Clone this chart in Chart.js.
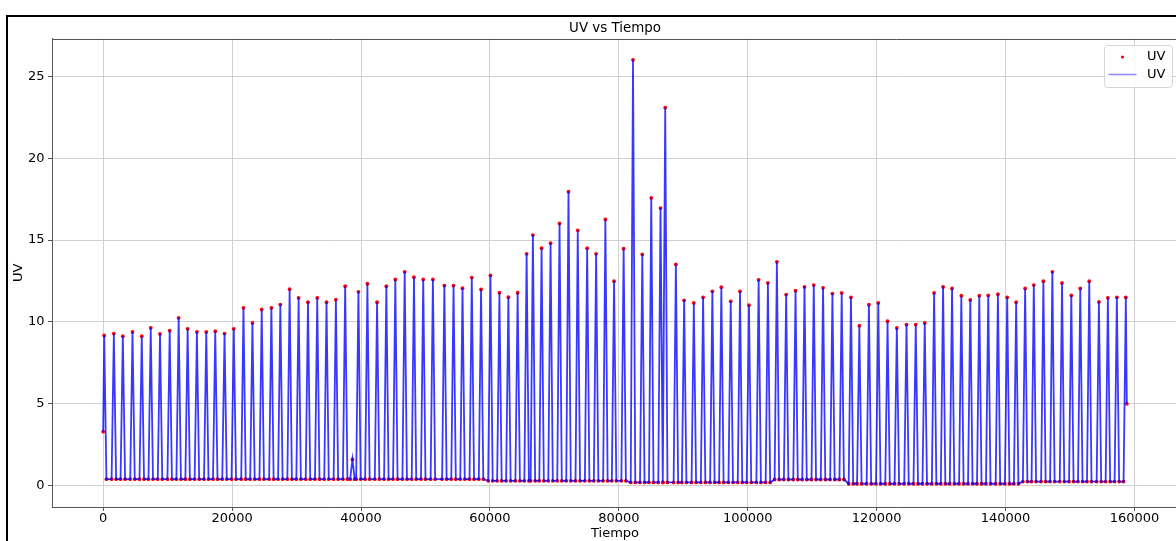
<!DOCTYPE html>
<html>
<head>
<meta charset="utf-8">
<title>UV vs Tiempo</title>
<script src="https://cdn.jsdelivr.net/npm/chart.js@4.4.1/dist/chart.umd.min.js"></script>
<style>
  html, body { margin: 0; padding: 0; background: #fff; overflow: hidden; width: 1176px; height: 541px; }
  #frame { position: absolute; left: 6px; top: 15px; border-left: 2px solid #000; border-top: 2px solid #000; width: 1200px; height: 560px; }
  #uvChart { display: block; }
</style>
</head>
<body>
<div id="frame"><canvas id="uvChart" width="1174" height="524" style="width:1174px;height:524px"></canvas></div>
<script>
// Series: the first reading, one top per day, the last reading
const startTime = 0;
const startUV = 3.3;

const peakTime = [
  155, 1656, 3048, 4548, 5986, 7378, 8817, 10318, 11710, 13102,
  14541, 15994, 17387, 18825, 20263, 21764, 23156, 24595, 26094, 27486,
  28925, 30318, 31771, 33210, 34649, 36103, 37542, 38671, 39599, 40991,
  42491, 43930, 45322, 46776, 48215, 49653, 51153, 52932, 54355, 55747,
  57186, 58624, 60078, 61471, 62863, 64301, 65693, 66668, 68013, 69406,
  70798, 72190, 73628, 75083, 76475, 77913, 79259, 80744, 82198, 83637,
  85029, 86468, 87195, 88850, 90133, 91634, 93073, 94511, 95903, 97357,
  98796, 100188, 101688, 103127, 104519, 105957, 107412, 108804, 110242, 111681,
  113135, 114574, 116012, 117311, 118796, 120250, 121688, 123127, 124627, 126066,
  127458, 128912, 130304, 131696, 133135, 134527, 135919, 137311, 138812, 140250,
  141642, 143034, 144380, 145865, 147257, 148758, 150196, 151588, 152980, 154479,
  155872, 157264, 158656
];

const peakUV = [
  9.17, 9.29, 9.13, 9.39, 9.13, 9.64, 9.27, 9.47, 10.25, 9.58,
  9.39, 9.39, 9.43, 9.29, 9.58, 10.86, 9.94, 10.76, 10.86, 11.06,
  12.0, 11.47, 11.2, 11.47, 11.2, 11.36, 12.18, 1.6, 11.84, 12.33,
  11.2, 12.18, 12.59, 13.06, 12.73, 12.59, 12.59, 12.22, 12.22, 12.06,
  12.71, 11.98, 12.84, 11.78, 11.51, 11.78, 14.16, 15.3, 14.5, 14.81,
  16.01, 17.95, 15.59, 14.5, 14.16, 16.26, 12.49, 14.47, 26.0, 14.12,
  17.58, 16.95, 23.09, 13.51, 11.32, 11.16, 11.5, 11.87, 12.12, 11.26,
  11.87, 11.02, 12.57, 12.38, 13.67, 11.67, 11.91, 12.14, 12.25, 12.08,
  11.73, 11.77, 11.5, 9.77, 11.05, 11.16, 10.04, 9.63, 9.84, 9.84,
  9.94, 11.77, 12.14, 12.04, 11.6, 11.34, 11.6, 11.62, 11.69, 11.5,
  11.2, 12.04, 12.25, 12.49, 13.06, 12.38, 11.62, 12.04, 12.49, 11.22,
  11.47, 11.5, 11.5
];

// night level around each day
const nightUV = [
  0.4, 0.4, 0.4, 0.4, 0.4, 0.4, 0.4, 0.4, 0.4, 0.4,
  0.4, 0.4, 0.4, 0.4, 0.4, 0.4, 0.4, 0.4, 0.4, 0.4,
  0.4, 0.4, 0.4, 0.4, 0.4, 0.4, 0.4, 0.4, 0.4, 0.4,
  0.4, 0.4, 0.4, 0.4, 0.4, 0.4, 0.4, 0.4, 0.4, 0.4,
  0.4, 0.4, 0.3, 0.3, 0.3, 0.3, 0.3, 0.3, 0.3, 0.3,
  0.3, 0.3, 0.3, 0.3, 0.3, 0.3, 0.3, 0.3, 0.2, 0.2,
  0.2, 0.2, 0.2, 0.2, 0.2, 0.2, 0.2, 0.2, 0.2, 0.2,
  0.2, 0.2, 0.2, 0.2, 0.38, 0.38, 0.38, 0.38, 0.38, 0.38,
  0.38, 0.38, 0.12, 0.12, 0.12, 0.12, 0.12, 0.12, 0.12, 0.12,
  0.12, 0.12, 0.12, 0.12, 0.12, 0.12, 0.12, 0.12, 0.12, 0.12,
  0.12, 0.25, 0.25, 0.25, 0.25, 0.25, 0.25, 0.25, 0.25, 0.25,
  0.25, 0.25, 0.25
];

const endTime = 158809;
const endUV = 5.0;

const halfDay = 350; // time from the foot of a daily spike to its top

const xTicks = [0, 20000, 40000, 60000, 80000, 100000, 120000, 140000, 160000];
const yTicks = [0, 5, 10, 15, 20, 25];

// build the point list
const uvPoints = [{ x: startTime, y: startUV }];
peakTime.forEach((t, i) => {
  if (i > 0) uvPoints.push({ x: t - halfDay, y: nightUV[i] });
  uvPoints.push({ x: t, y: peakUV[i] });
  if (i < peakTime.length - 1) uvPoints.push({ x: t + halfDay, y: nightUV[i] });
});
uvPoints.push({ x: endTime, y: endUV });

const span = endTime - startTime;
const xMin = startTime - span * 0.05;
const xMax = endTime + span * 0.05;

Chart.defaults.font.family = 'DejaVu Sans';
Chart.defaults.font.size = 13;
Chart.defaults.color = '#000';

const font = { family: 'DejaVu Sans', size: 13 };

// top spine and matplotlib-like legend
const decor = {
  id: 'decor',
  afterDraw(chart) {
    const c = chart.ctx;
    const a = chart.chartArea;
    c.save();
    c.strokeStyle = '#555';
    c.lineWidth = 1;
    c.beginPath();
    c.moveTo(a.left, Math.round(a.top) + 0.5);
    c.lineTo(a.right, Math.round(a.top) + 0.5);
    c.stroke();

    const bx = Math.round(a.right - 74), by = Math.round(a.top + 6), bw = 68, bh = 42;
    c.beginPath();
    c.roundRect(bx + 0.5, by + 0.5, bw, bh, 3);
    c.fillStyle = 'rgba(255,255,255,0.8)';
    c.fill();
    c.strokeStyle = '#d6d6d6';
    c.stroke();

    c.fillStyle = '#ff0000';
    c.beginPath();
    c.arc(bx + 18.5, by + 12, 1.6, 0, Math.PI * 2);
    c.fill();

    c.strokeStyle = 'rgba(0,0,255,0.45)';
    c.lineWidth = 1.5;
    c.beginPath();
    c.moveTo(bx + 4.5, by + 29.5);
    c.lineTo(bx + 32.5, by + 29.5);
    c.stroke();

    c.fillStyle = '#000';
    c.font = '13px "DejaVu Sans"';
    c.textBaseline = 'middle';
    c.textAlign = 'left';
    c.fillText('UV', bx + 43, by + 12);
    c.fillText('UV', bx + 43, by + 29.5);
    c.restore();
  }
};

const ctx = document.getElementById('uvChart').getContext('2d');
new Chart(ctx, {
  type: 'scatter',
  data: {
    datasets: [
      {
        label: 'UV',
        data: uvPoints,
        showLine: true,
        borderColor: 'rgba(0,0,255,0.78)',
        borderWidth: 1.8,
        pointRadius: 0,
        tension: 0,
        order: 1
      },
      {
        label: 'UV',
        data: uvPoints,
        showLine: false,
        pointRadius: 1.9,
        pointBorderWidth: 0,
        pointBackgroundColor: '#ff0000',
        order: 2
      }
    ]
  },
  options: {
    responsive: false,
    animation: false,
    events: [],
    layout: { padding: 0 },
    plugins: {
      legend: { display: false },
      tooltip: { enabled: false },
      title: {
        display: true,
        text: 'UV vs Tiempo',
        fullSize: false,
        color: '#000',
        font: { family: 'DejaVu Sans', size: 13.4, weight: 'normal' },
        padding: { top: 3, bottom: 2.5 }
      }
    },
    scales: {
      x: {
        type: 'linear',
        min: xMin,
        max: xMax,
        afterBuildTicks: s => { s.ticks = xTicks.map(v => ({ value: v })); },
        afterFit: s => { s.height = 34; s.paddingLeft = 0; s.paddingRight = 0; },
        ticks: { callback: v => String(v), color: '#000', font: font, padding: 0, maxRotation: 0, autoSkip: false },
        grid: { color: '#d0d0d0', lineWidth: 1, tickLength: 4, tickColor: '#555' },
        border: { color: '#555', width: 1 },
        title: { display: true, text: 'Tiempo', color: '#000', font: font, padding: 0 }
      },
      y: {
        type: 'linear',
        min: -1.3,
        max: 27.3,
        afterBuildTicks: s => { s.ticks = yTicks.map(v => ({ value: v })); },
        afterFit: s => { s.width = 44; s.paddingTop = 0; s.paddingBottom = 0; },
        ticks: { color: '#000', font: font, padding: 3.5 },
        grid: { color: '#d0d0d0', lineWidth: 1, tickLength: 4, tickColor: '#555' },
        border: { color: '#555', width: 1 },
        title: { display: true, text: 'UV', color: '#000', font: font, padding: { top: 2.7, bottom: 0 } }
      }
    }
  },
  plugins: [decor]
});
</script>
</body>
</html>
